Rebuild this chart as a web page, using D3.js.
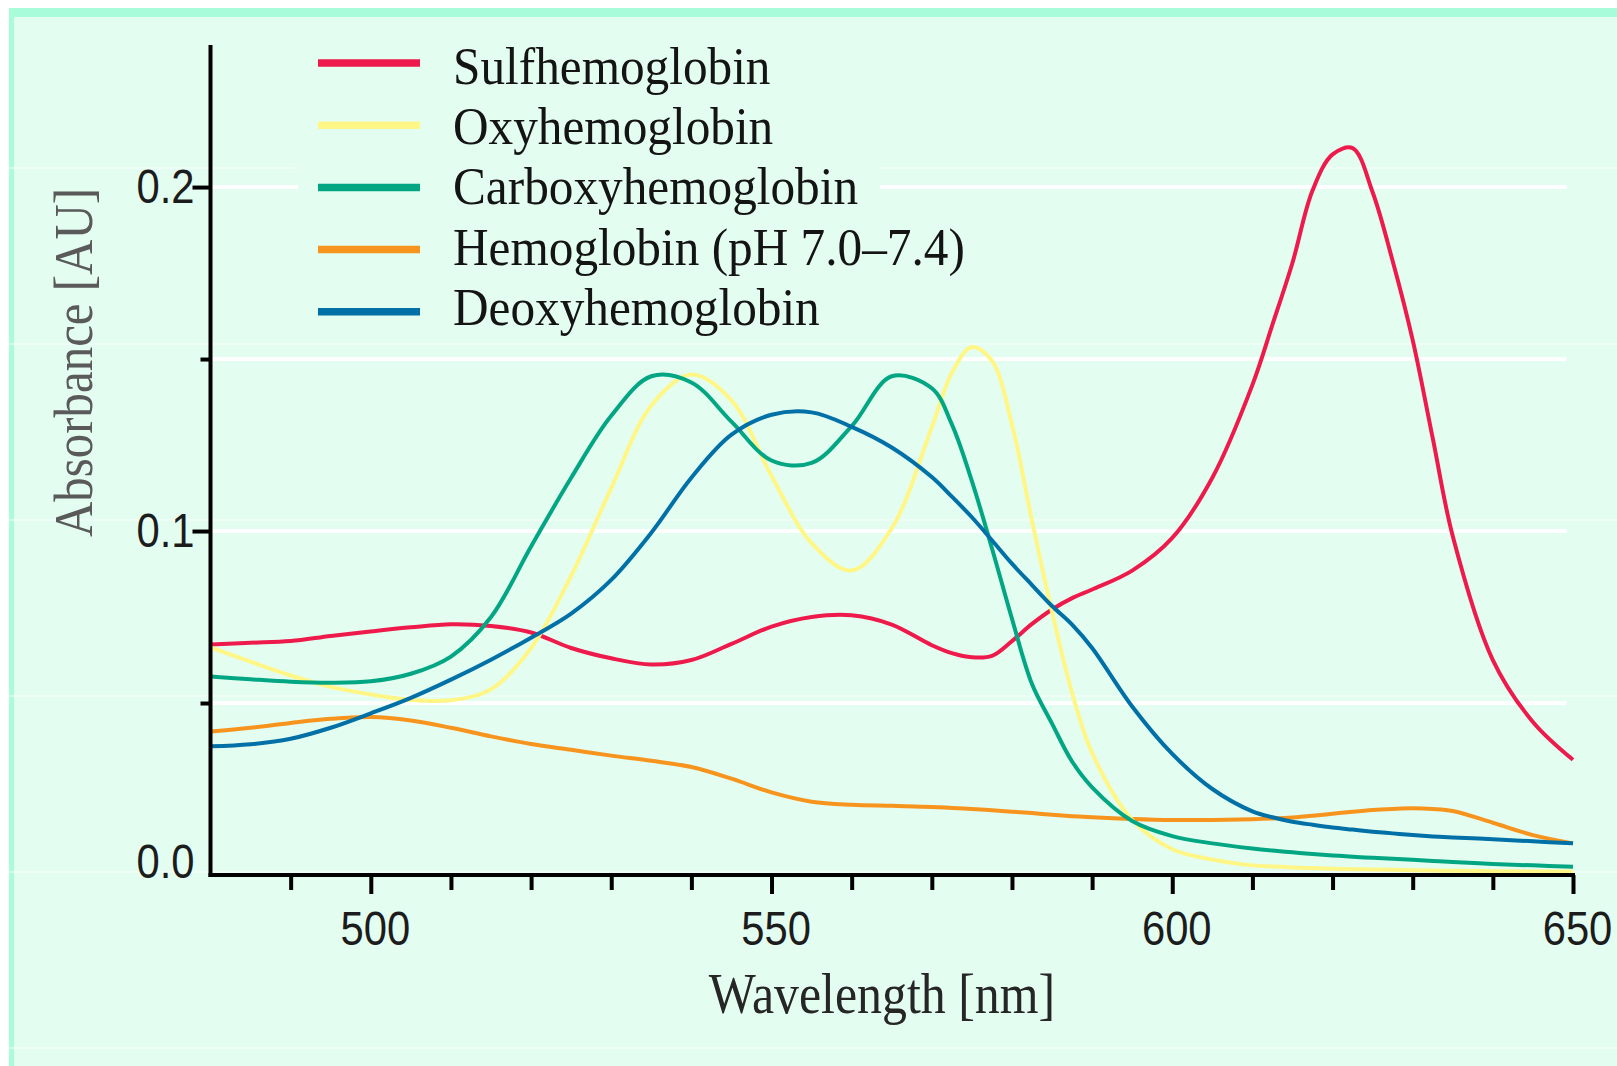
<!DOCTYPE html>
<html>
<head>
<meta charset="utf-8">
<script src="https://cdn.jsdelivr.net/npm/d3@7"></script>
<style>
  body { margin: 0; background: #fff; }
  svg { display: block; }
</style>
</head>
<body>
<div id="chart"></div>
<script>

// wavelengths in nm (denser where the curves turn fast)
var wavelengths = [480, 485, 490, 495, 500, 505, 510, 515, 520, 525, 530, 535, 540, 545, 550, 555, 560, 565, 570,
	572.5, 575, 577.5, 580, 582.5, 585, 587.5, 590, 595, 600, 605, 610,
	612.5, 615, 617.5, 620, 622.5, 625, 627.5, 630, 632.5, 635, 640, 645, 650];

// absorbance [AU]
var sulfhemoglobin = [0.0670, 0.0675, 0.0680, 0.0695, 0.0708, 0.0720, 0.0729, 0.0724, 0.0705, 0.0660, 0.0630, 0.0612,
	0.0625, 0.0672, 0.0722, 0.0750, 0.0755, 0.0728, 0.0668,
	0.0645, 0.0633, 0.0637, 0.0680, 0.0730, 0.0772, 0.0805, 0.0830, 0.0885, 0.0980, 0.1155, 0.1425,
	0.1600, 0.1780, 0.1990, 0.2095, 0.2113, 0.1985, 0.1785, 0.1555, 0.1270, 0.0985, 0.0625, 0.0445, 0.0335];
var oxyhemoglobin = [0.0662, 0.0620, 0.0580, 0.0547, 0.0525, 0.0509, 0.0508, 0.0540, 0.0660, 0.0870, 0.1125, 0.1365,
	0.1455, 0.1380, 0.1160, 0.0965, 0.0885, 0.1008, 0.1302,
	0.1460, 0.1535, 0.1495, 0.1310, 0.1030, 0.0765, 0.0530, 0.0355, 0.0160, 0.0075, 0.0045, 0.0028,
	0.0025, 0.0022, 0.0020, 0.0018, 0.0017, 0.0016, 0.0015, 0.0014, 0.0013, 0.0012, 0.0011, 0.0010, 0.0010];
var carboxyhemoglobin = [0.0577, 0.0569, 0.0562, 0.0559, 0.0563, 0.0585, 0.0635, 0.0750, 0.0955, 0.1155, 0.1335, 0.1450,
	0.1432, 0.1318, 0.1205, 0.1198, 0.1305, 0.1450, 0.1415,
	0.1310, 0.1145, 0.0950, 0.0745, 0.0555, 0.0440, 0.0330, 0.0255, 0.0157, 0.0113, 0.0092, 0.0077,
	0.0071, 0.0066, 0.0061, 0.0057, 0.0053, 0.0050, 0.0047, 0.0044, 0.0041, 0.0038, 0.0032, 0.0028, 0.0024];
var hemoglobin = [0.0417, 0.0428, 0.0442, 0.0454, 0.0459, 0.0449, 0.0428, 0.0403, 0.0381, 0.0364, 0.0347, 0.0332,
	0.0314, 0.0280, 0.0240, 0.0213, 0.0204, 0.0201, 0.0198,
	0.0195, 0.0192, 0.0188, 0.0184, 0.0180, 0.0175, 0.0171, 0.0168, 0.0163, 0.0160, 0.0160, 0.0162,
	0.0164, 0.0167, 0.0172, 0.0178, 0.0184, 0.0189, 0.0192, 0.0194, 0.0192, 0.0186, 0.0152, 0.0116, 0.0092];
var deoxyhemoglobin = [0.0374, 0.0380, 0.0396, 0.0428, 0.0470, 0.0515, 0.0568, 0.0626, 0.0690, 0.0760, 0.0858, 0.0995,
	0.1155, 0.1280, 0.1338, 0.1345, 0.1303, 0.1243, 0.1157,
	0.1100, 0.1040, 0.0973, 0.0905, 0.0843, 0.0782, 0.0728, 0.0660, 0.0490, 0.0352, 0.0250, 0.0185,
	0.0168, 0.0155, 0.0146, 0.0138, 0.0132, 0.0126, 0.0121, 0.0116, 0.0112, 0.0109, 0.0104, 0.0098, 0.0092];

var seriesNames = ["Sulfhemoglobin", "Oxyhemoglobin", "Carboxyhemoglobin", "Hemoglobin (pH 7.0\u20137.4)", "Deoxyhemoglobin"];
var seriesColors = ["#ee1a4b", "#fff685", "#03a682", "#f7941d", "#0070a6"];

var xMajorTicks = [500, 550, 600, 650];
var xMinorTicks = [490, 510, 520, 530, 540, 560, 570, 580, 590, 610, 620, 630, 640];
var yMajorTicks = [0, 0.1, 0.2];
var yMinorTicks = [0.05, 0.15];


var W = 1617, H = 1066;
var bg = "#e3fdf1";

var svg = d3.select("#chart").append("svg")
	.attr("width", W)
	.attr("height", H);

// frame: white margin, mint border, pale mint panel
svg.append("rect").attr("width", W).attr("height", H).attr("fill", "#ffffff");
svg.append("rect").attr("x", 9).attr("y", 8).attr("width", W - 9).attr("height", H - 8).attr("fill", "#a8fcda");
svg.append("rect").attr("x", 14).attr("y", 17).attr("width", W - 14).attr("height", H - 17).attr("fill", bg);

// faint scan lines running across the whole scan
svg.append("g").selectAll("line")
	.data(d3.range(168, H, 176))
	.join("line")
	.attr("x1", 9).attr("x2", W)
	.attr("y1", function(d) { return d; }).attr("y2", function(d) { return d; })
	.attr("stroke", "#ffffff").attr("stroke-width", 1.2).attr("opacity", 0.85);

var x = d3.scaleLinear().domain([480, 650]).range([210.5, 1573]);
var y = d3.scaleLinear().domain([0, 0.2413]).range([875, 45]);

// white grid lines
svg.append("g").selectAll("line")
	.data(yMinorTicks.concat([0.1, 0.2]))
	.join("line")
	.attr("x1", x(480)).attr("x2", x(649.2))
	.attr("y1", function(d) { return y(d); }).attr("y2", function(d) { return y(d); })
	.attr("stroke", "#ffffff").attr("stroke-width", 4);

// legend sits on a patch of panel colour that hides the grid
svg.append("rect")
	.attr("x", 298).attr("y", 36).attr("width", 582).attr("height", 306)
	.attr("fill", bg);

// curves
var series = [sulfhemoglobin, oxyhemoglobin, carboxyhemoglobin, hemoglobin, deoxyhemoglobin];
var drawOrder = [3, 0, 1, 2, 4];

var line = d3.line()
	.x(function(d, i) { return x(wavelengths[i]); })
	.y(function(d) { return y(d); })
	.curve(d3.curveCatmullRom.alpha(0.5));

svg.append("g").selectAll("path")
	.data(drawOrder)
	.join("path")
	.attr("d", function(k) { return line(series[k]); })
	.attr("fill", "none")
	.attr("stroke", function(k) { return seriesColors[k]; })
	.attr("stroke-width", 4)
	.attr("stroke-linejoin", "round");

// axes
var tickFont = "'Liberation Sans', Arial, sans-serif";
var narrow = 0.87;

var xMinor = svg.append("g").attr("transform", "translate(0," + y(0) + ")")
	.call(d3.axisBottom(x).tickValues(xMinorTicks).tickSize(15).tickSizeOuter(0).tickFormat(""));
xMinor.select(".domain").remove();

var xAxis = svg.append("g").attr("transform", "translate(0," + y(0) + ")")
	.call(d3.axisBottom(x).tickValues(xMajorTicks).tickSize(19).tickSizeOuter(0).tickFormat(d3.format("d")));
xAxis.select(".domain").attr("d", "M" + (x(480) - 2) + ",0H" + (x(650) + 2));

xAxis.selectAll(".tick text")
	.attr("y", 0).attr("dy", null)
	.attr("transform", "translate(4,70) scale(" + narrow + ",1)");

var yMinor = svg.append("g").attr("transform", "translate(" + x(480) + ",0)")
	.call(d3.axisLeft(y).tickValues(yMinorTicks).tickSize(10).tickSizeOuter(0).tickFormat(""));
yMinor.select(".domain").remove();

var yAxis = svg.append("g").attr("transform", "translate(" + x(480) + ",0)")
	.call(d3.axisLeft(y).tickValues(yMajorTicks).tickSize(18).tickSizeOuter(0).tickFormat(d3.format(".1f")));
yAxis.select(".domain").attr("d", "M0," + (y(0) + 2) + "V" + y(0.2413));
yAxis.selectAll(".tick line").filter(function(d) { return d === 0; }).remove();
yAxis.selectAll(".tick text")
	.attr("x", 0).attr("dy", null)
	.attr("transform", function(d) {
		return "translate(-16," + (d === 0 ? 2 : 15) + ") scale(" + narrow + ",1)";
	});

svg.selectAll(".domain, .tick line")
	.attr("stroke", "#000")
	.attr("stroke-width", 4);

svg.selectAll(".tick text")
	.attr("font-family", tickFont)
	.attr("font-size", 48)
	.attr("fill", "#1c1c1c");

// axis titles
var serif = "'Liberation Serif', 'Times New Roman', serif";

svg.append("text")
	.attr("transform", "translate(882,1013) scale(0.86,1)")
	.attr("text-anchor", "middle")
	.attr("font-family", serif)
	.attr("font-size", 58)
	.attr("fill", "#262626")
	.text("Wavelength [nm]");

svg.append("text")
	.attr("transform", "translate(91.5,362.5) rotate(-90) scale(0.906,1)")
	.attr("text-anchor", "middle")
	.attr("font-family", serif)
	.attr("font-size", 54)
	.attr("fill", "#5a5a5a")
	.text("Absorbance [AU]");

// legend
var legend = svg.append("g").selectAll("g")
	.data(seriesNames)
	.join("g");

legend.append("line")
	.attr("x1", 318).attr("x2", 420)
	.attr("y1", function(d, i) { return 63 + i * 62.2; })
	.attr("y2", function(d, i) { return 63 + i * 62.2; })
	.attr("stroke", function(d, i) { return seriesColors[i]; })
	.attr("stroke-width", 7.5);

legend.append("text")
	.attr("transform", function(d, i) { return "translate(453," + (83.5 + i * 60.4) + ") scale(0.93,1)"; })
	.attr("font-family", serif)
	.attr("font-size", 53)
	.attr("fill", "#141414")
	.text(function(d) { return d; });

</script>
</body>
</html>
